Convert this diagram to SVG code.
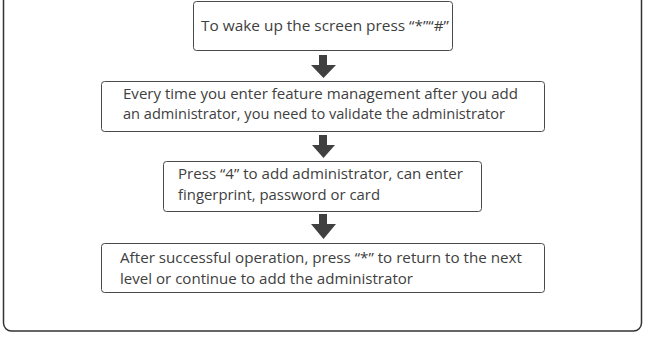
<svg xmlns="http://www.w3.org/2000/svg" width="659" height="342" viewBox="0 0 659 342">
<style>
.box{fill:#fff;stroke:#4a4a4a;stroke-width:1}
.t{font-family:"Open Sans","Liberation Sans",sans-serif;font-size:14px;fill:#404040}
.arr{fill:#404040}
</style>
<rect x="0" y="0" width="659" height="342" fill="#fff"/>
<rect x="3.5" y="-20" width="638" height="351" rx="8" fill="none" stroke="#333" stroke-width="1.5"/>
<g id="connectors">
<path class="arr" d="M319 55H327V65H336L323.5 78L311 65H319Z"/>
<path class="arr" d="M319 135H327V145H335L323.5 158L312 145H319Z"/>
<path class="arr" d="M319 214H327V224H336L323.5 239L311 224H319Z"/>
</g>
<g id="n1">
<rect class="box" x="193.5" y="1.5" width="259" height="49" rx="3"/>
<text class="t" x="201" y="31" textLength="248" lengthAdjust="spacingAndGlyphs">To wake up the screen press “*”“#”</text>
</g>
<g id="n2">
<rect class="box" x="101.5" y="81.5" width="443" height="50" rx="3"/>
<text class="t" x="123" y="99" textLength="395" lengthAdjust="spacingAndGlyphs">Every time you enter feature management after you add</text>
<text class="t" x="123" y="119" textLength="382" lengthAdjust="spacingAndGlyphs">an administrator, you need to validate the administrator</text>
</g>
<g id="n3">
<rect class="box" x="163.5" y="161.5" width="318" height="50" rx="3"/>
<text class="t" x="178" y="179" textLength="285" lengthAdjust="spacingAndGlyphs">Press “4” to add administrator, can enter</text>
<text class="t" x="178" y="200" textLength="202" lengthAdjust="spacingAndGlyphs">fingerprint, password or card</text>
</g>
<g id="n4">
<rect class="box" x="101.5" y="243.5" width="443" height="49" rx="3"/>
<text class="t" x="120" y="263" textLength="402" lengthAdjust="spacingAndGlyphs">After successful operation, press “*” to return to the next</text>
<text class="t" x="120" y="284" textLength="293" lengthAdjust="spacingAndGlyphs">level or continue to add the administrator</text>
</g>
</svg>
